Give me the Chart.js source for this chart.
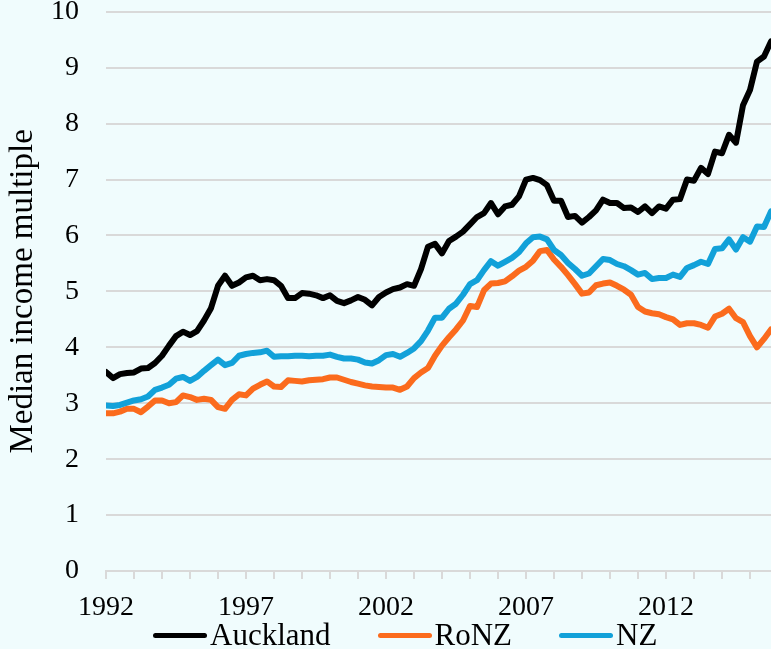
<!DOCTYPE html>
<html><head><meta charset="utf-8">
<script src="https://cdn.jsdelivr.net/npm/chart.js@4.4.1/dist/chart.umd.min.js"></script>
<style>
html,body{margin:0;padding:0;background:#f0fcfd;}
#wrap{position:relative;width:771px;height:649px;overflow:hidden;background:#f0fcfd;}
canvas{display:block;position:absolute;left:0;top:-32px}
#legend{position:absolute;left:153px;top:617px;display:flex;align-items:center;font-family:'Liberation Serif',serif;font-size:31px;color:#000;line-height:normal;}
.item{display:flex;align-items:center;margin-right:47px}
.sw{width:54px;height:5px;border-radius:3px;margin-right:3px}
</style></head><body>
<div id="wrap"><canvas id="c" width="771" height="681"></canvas><div id="legend"></div></div>
<script>
// Quarterly observations, 1992 Q1 .. 2015 Q4
const startYear = 1992;
const quarterCount = 96;
const quarters = Array.from({length: quarterCount}, (_, i) => startYear + i / 4);

const auckland = [3.56,3.45,3.52,3.54,3.55,3.62,3.63,3.72,3.85,4.03,4.20,4.28,4.22,4.29,4.48,4.70,
5.10,5.28,5.10,5.16,5.25,5.28,5.20,5.22,5.20,5.10,4.88,4.88,4.97,4.96,4.93,4.88,
4.93,4.83,4.79,4.84,4.90,4.85,4.75,4.90,4.98,5.04,5.07,5.13,5.10,5.40,5.80,5.85,
5.68,5.90,5.98,6.07,6.20,6.33,6.40,6.58,6.38,6.52,6.55,6.70,7.00,7.03,6.99,6.90,
6.62,6.62,6.33,6.35,6.23,6.33,6.45,6.64,6.58,6.58,6.49,6.50,6.42,6.52,6.40,6.52,
6.48,6.64,6.65,7.00,6.98,7.21,7.10,7.50,7.47,7.80,7.66,8.33,8.60,9.11,9.20,9.47];

const ronz = [2.82,2.82,2.85,2.90,2.90,2.84,2.94,3.05,3.05,3.00,3.02,3.14,3.11,3.06,3.08,3.06,
2.93,2.90,3.06,3.16,3.14,3.26,3.33,3.39,3.30,3.29,3.41,3.40,3.39,3.41,3.42,3.43,
3.46,3.46,3.42,3.38,3.35,3.32,3.30,3.29,3.28,3.28,3.24,3.30,3.45,3.55,3.63,3.85,
4.03,4.18,4.32,4.48,4.74,4.72,5.02,5.14,5.15,5.18,5.27,5.37,5.44,5.55,5.72,5.74,
5.57,5.44,5.29,5.13,4.96,4.98,5.11,5.14,5.16,5.10,5.03,4.94,4.72,4.64,4.61,4.59,
4.54,4.50,4.40,4.43,4.43,4.40,4.35,4.55,4.60,4.69,4.52,4.45,4.20,4.00,4.15,4.32];

const nz = [2.96,2.95,2.97,3.01,3.05,3.07,3.12,3.24,3.28,3.33,3.44,3.47,3.40,3.47,3.58,3.68,
3.78,3.68,3.72,3.85,3.88,3.90,3.91,3.94,3.83,3.84,3.84,3.85,3.85,3.84,3.85,3.85,
3.87,3.83,3.80,3.80,3.78,3.73,3.71,3.77,3.86,3.88,3.83,3.90,3.98,4.11,4.30,4.53,
4.53,4.69,4.78,4.94,5.13,5.20,5.38,5.54,5.46,5.53,5.60,5.70,5.86,5.97,5.98,5.93,
5.74,5.65,5.51,5.40,5.28,5.32,5.45,5.58,5.56,5.49,5.45,5.38,5.30,5.33,5.22,5.24,
5.24,5.30,5.26,5.42,5.47,5.53,5.49,5.76,5.77,5.93,5.75,5.97,5.89,6.16,6.15,6.43];

const seriesNames = ['Auckland', 'RoNZ', 'NZ'];
const seriesValues = [auckland, ronz, nz];
const seriesColors = ['#000000', '#fb6b1d', '#12a1d9'];
const xLabelYears = [1992, 1997, 2002, 2007, 2012];
const yAxisTitle = 'Median income multiple';

const FONT = "'Liberation Serif', serif";
const GRID = '#d9d9d9';

const datasets = seriesValues.map((vals, k) => ({
  label: seriesNames[k],
  data: vals.map((v, i) => ({x: quarters[i], y: v})),
  borderColor: seriesColors[k],
  backgroundColor: seriesColors[k],
  borderWidth: 6,
  pointRadius: 0,
  tension: 0,
  borderJoinStyle: 'round',
  borderCapStyle: 'round',
  fill: false
}));
datasets[0].order = 0; datasets[1].order = 2; datasets[2].order = 1;

new Chart(document.getElementById('c'), {
  type: 'line',
  data: {datasets},
  options: {
    responsive: false,
    animation: false,
    devicePixelRatio: 1,
    layout: {autoPadding: false, padding: {top: 13, right: 0, bottom: 0, left: 0}},
    plugins: {legend: {display: false}, tooltip: {enabled: false}},
    scales: {
      x: {
        type: 'linear',
        min: startYear,
        max: quarters[quarters.length - 1],
        afterFit: s => { s.height = 78; },
        afterBuildTicks: s => {
          const t = [];
          for (let y = startYear; y <= s.max; y++) t.push({value: y});
          s.ticks = t;
        },
        ticks: {
          stepSize: 1,
          autoSkip: false,
          maxRotation: 0,
          padding: 12,
          color: '#000',
          font: {family: FONT, size: 28},
          callback: v => xLabelYears.includes(v) ? String(v) : ''
        },
        grid: {display: true, drawOnChartArea: false, drawTicks: true, tickLength: 8, color: GRID, lineWidth: 2},
        border: {display: true, color: GRID, width: 2}
      },
      y: {
        min: 0, max: 10,
        afterFit: s => { s.width = 106; },
        ticks: {stepSize: 1, padding: 27, color: '#000', font: {family: FONT, size: 28}},
        grid: {color: GRID, lineWidth: 2, drawTicks: false},
        border: {display: false},
        title: {display: true, text: yAxisTitle, color: '#000', font: {family: FONT, size: 33}, padding: {top: 4, bottom: 0}}
      }
    }
  }
});

const lg = document.getElementById('legend');
seriesNames.forEach((n, k) => {
  const it = document.createElement('div'); it.className = 'item';
  const sw = document.createElement('span'); sw.className = 'sw'; sw.style.background = seriesColors[k];
  const tx = document.createElement('span'); tx.textContent = n;
  it.appendChild(sw); it.appendChild(tx); lg.appendChild(it);
});
</script>
</body></html>
